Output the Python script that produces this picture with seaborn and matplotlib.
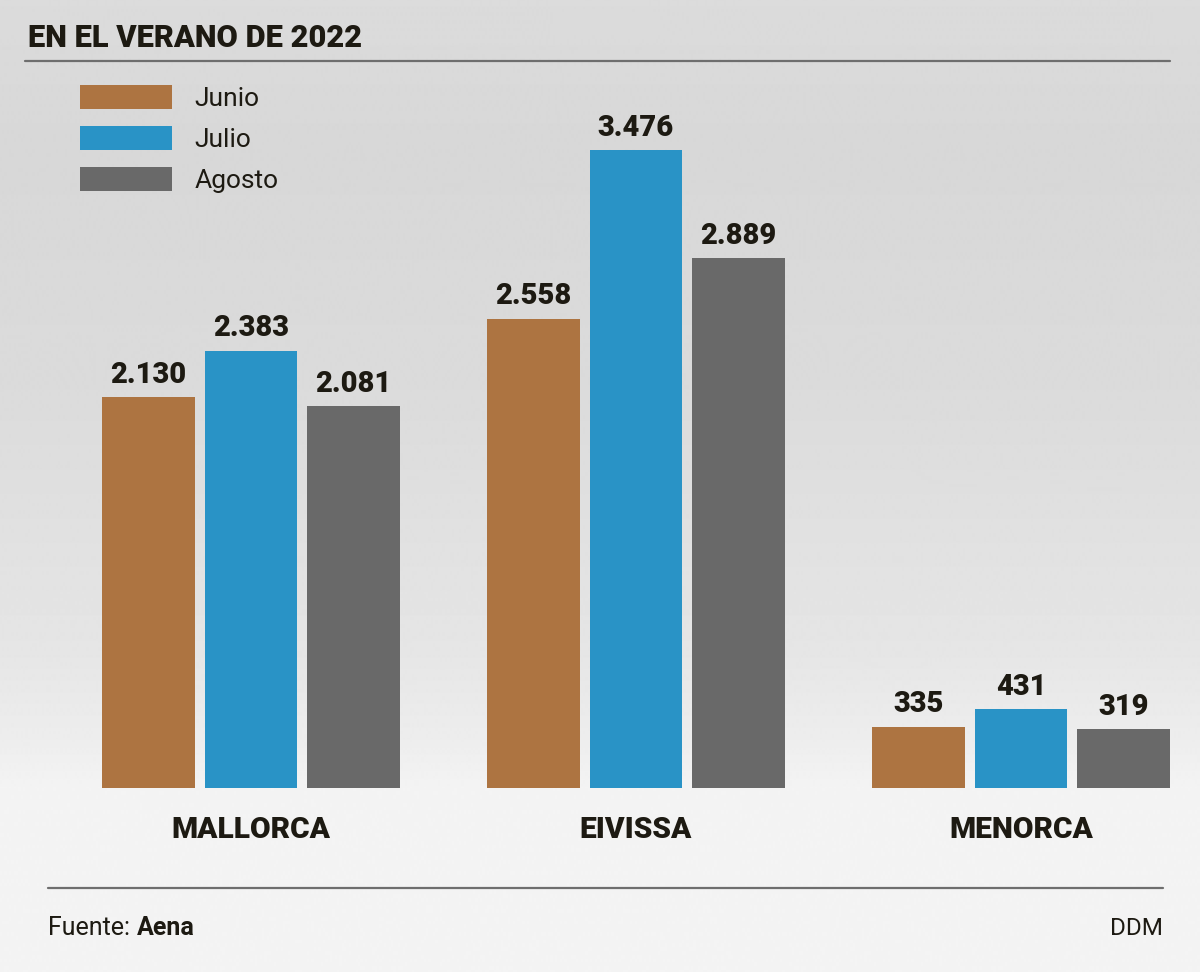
import numpy as np
import pandas as pd
import matplotlib
matplotlib.use("Agg")
import matplotlib.pyplot as plt
from matplotlib.lines import Line2D
import seaborn as sns

# Data
islas = ["MALLORCA", "EIVISSA", "MENORCA"]
meses = ["Junio", "Julio", "Agosto"]
junio = [2130, 2558, 335]
julio = [2383, 3476, 431]
agosto = [2081, 2889, 319]

colores = ["#ad7441", "#2993c6", "#696969"]
texto = "#1d1a12"

df = pd.DataFrame({
    "isla": islas * 3,
    "mes": [m for m in meses for _ in islas],
    "valor": junio + julio + agosto,
})

sns.set_theme(style="white")
plt.rcParams["font.family"] = ["Roboto", "DejaVu Sans"]

W, H = 1200, 972
fig = plt.figure(figsize=(12, 9.72), dpi=100)

# gradient background
bg = fig.add_axes([0, 0, 1, 1], zorder=-2)
ys = np.array([0, 150, 400, 650, 740, 790, 972])
vs = np.array([0.86, 0.845, 0.86, 0.9, 0.93, 0.955, 0.955])
grad = np.interp(np.arange(H), ys, vs)
bg.imshow(np.repeat(grad[:, None], 2, axis=1), cmap="gray", vmin=0, vmax=1,
          aspect="auto", extent=[0, 1, 0, 1], interpolation="bilinear")
bg.set_axis_off()

# chart axes: baseline at 788 px from top
base = 788
ax = fig.add_axes([0, (H - base) / H, 1, base / H])
ax.patch.set_alpha(0)
sns.barplot(data=df, x="isla", y="valor", hue="mes", palette=colores,
            width=0.8, gap=0.1, ax=ax, saturation=1, linewidth=0)

px_per_unit = 0.1835
ax.set_ylim(0, base / px_per_unit)
ax.set_xlim(-251 / 385, (W - 251) / 385)

for cont in ax.containers:
    labs = [f"{int(b.get_height()):,}".replace(",", ".") for b in cont]
    ax.bar_label(cont, labels=labs, padding=6, fontsize=21, fontweight="heavy",
                 color=texto)

ax.set_xlabel("")
ax.set_ylabel("")
ax.set_yticks([])
ax.tick_params(axis="x", length=0, pad=20)
for t in ax.get_xticklabels():
    t.set_fontsize(21.5)
    t.set_fontweight("heavy")
    t.set_color(texto)
sns.despine(ax=ax, left=True, bottom=True, top=True, right=True)

leg = ax.legend(loc="upper left", bbox_to_anchor=(80 / W, 1 - 85 / base),
                frameon=False, fontsize=19, handlelength=3.5, handleheight=1.02,
                labelspacing=0.56, handletextpad=0.85, borderpad=0, borderaxespad=0)
for t in leg.get_texts():
    t.set_color(texto)

# title and rules
fig.text(28 / W, 1 - 38 / H, "EN EL VERANO DE 2022", fontsize=22.2,
         fontweight="heavy", color=texto, va="center", ha="left")
fig.add_artist(Line2D([25 / W, 1170 / W], [1 - 61 / H] * 2, color="#6e6e6e", lw=1.6))
fig.add_artist(Line2D([48 / W, 1163 / W], [1 - 888 / H] * 2, color="#6e6e6e", lw=1.6))

# footer
fig.text(48 / W, 1 - 928 / H, "Fuente:", fontsize=18, color=texto, va="center")
fig.text(137 / W, 1 - 928 / H, "Aena", fontsize=18, fontweight="bold", color=texto, va="center")
fig.text(1163 / W, 1 - 928 / H, "DDM", fontsize=17.5, color=texto, va="center", ha="right")

fig.savefig("out.png", dpi=100)
